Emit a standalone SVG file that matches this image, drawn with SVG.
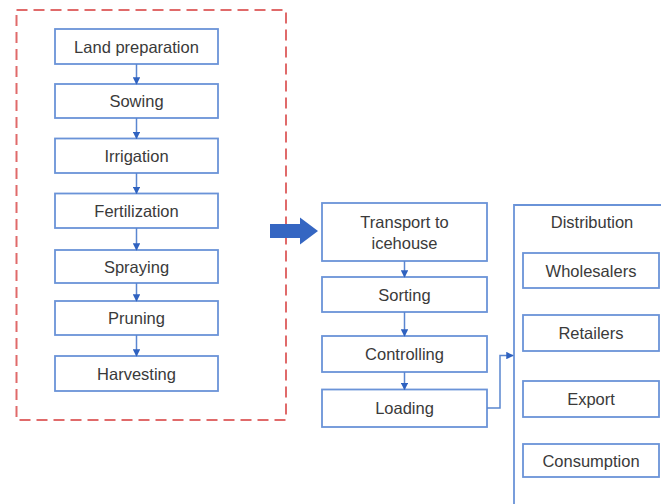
<svg xmlns="http://www.w3.org/2000/svg" width="661" height="504" viewBox="0 0 661 504">
  <style>
    .box { fill: #ffffff; stroke: #6a93d8; stroke-width: 1.8; }
    .lbl { font-family: "Liberation Sans", Arial, sans-serif; font-size: 16.5px; fill: #3a3a3a; text-anchor: middle; dominant-baseline: central; }
    .link { fill: none; stroke: #5a86d0; stroke-width: 1.5; marker-end: url(#tip); }
  </style>
  <defs>
    <marker id="tip" viewBox="0 0 10 10" refX="9" refY="5" markerWidth="5" markerHeight="5" orient="auto" markerUnits="strokeWidth">
      <path d="M0,0 L10,5 L0,10 z" fill="#2f62c0"/>
    </marker>
  </defs>
  <rect width="661" height="504" fill="#ffffff"/>

  <!-- field stage boundary -->
  <rect id="field-stage" x="16.5" y="10" width="269.5" height="410" fill="none" stroke="#e06a6a" stroke-width="2" stroke-dasharray="11 6"/>

  <!-- field steps -->
  <g id="land-preparation"><rect class="box" x="55" y="29" width="163" height="35"/><text class="lbl" x="136.5" y="46.5">Land preparation</text></g>
  <g id="sowing"><rect class="box" x="55" y="84" width="163" height="34"/><text class="lbl" x="136.5" y="101">Sowing</text></g>
  <g id="irrigation"><rect class="box" x="55" y="138.5" width="163" height="34.5"/><text class="lbl" x="136.5" y="156">Irrigation</text></g>
  <g id="fertilization"><rect class="box" x="55" y="193.5" width="163" height="34.5"/><text class="lbl" x="136.5" y="211">Fertilization</text></g>
  <g id="spraying"><rect class="box" x="55" y="250" width="163" height="33"/><text class="lbl" x="136.5" y="266.5">Spraying</text></g>
  <g id="pruning"><rect class="box" x="55" y="301" width="163" height="34"/><text class="lbl" x="136.5" y="318">Pruning</text></g>
  <g id="harvesting"><rect class="box" x="55" y="356" width="163" height="35"/><text class="lbl" x="136.5" y="373.5">Harvesting</text></g>

  <!-- handling steps -->
  <g id="transport"><rect class="box" x="322" y="203" width="165" height="58"/><text class="lbl" x="404.5" y="222">Transport to</text><text class="lbl" x="404.5" y="243">icehouse</text></g>
  <g id="sorting"><rect class="box" x="322" y="277" width="165" height="35"/><text class="lbl" x="404.5" y="294.5">Sorting</text></g>
  <g id="controlling"><rect class="box" x="322" y="336" width="165" height="36"/><text class="lbl" x="404.5" y="354">Controlling</text></g>
  <g id="loading"><rect class="box" x="322" y="389.5" width="165" height="37.5"/><text class="lbl" x="404.5" y="408">Loading</text></g>

  <!-- distribution channel -->
  <g id="distribution">
    <path d="M514,504 V205 H662" fill="none" stroke="#6a93d8" stroke-width="1.8"/>
    <text class="lbl" x="592" y="222">Distribution</text>
  </g>
  <g id="wholesalers"><rect class="box" x="523" y="253" width="136" height="35"/><text class="lbl" x="591" y="270.5">Wholesalers</text></g>
  <g id="retailers"><rect class="box" x="523" y="315" width="136" height="36"/><text class="lbl" x="591" y="333">Retailers</text></g>
  <g id="export"><rect class="box" x="523" y="381" width="136" height="36"/><text class="lbl" x="591" y="399">Export</text></g>
  <g id="consumption"><rect class="box" x="523" y="444" width="136" height="33"/><text class="lbl" x="591" y="460.5">Consumption</text></g>

  <!-- connectors -->
  <g id="connectors">
    <path class="link" d="M136.5,64 V84"/>
    <path class="link" d="M136.5,118 V138.5"/>
    <path class="link" d="M136.5,173 V193.5"/>
    <path class="link" d="M136.5,228 V250"/>
    <path class="link" d="M136.5,283 V301"/>
    <path class="link" d="M136.5,335 V356"/>
    <path class="link" d="M404.5,261 V277"/>
    <path class="link" d="M404.5,312 V336"/>
    <path class="link" d="M404.5,372 V389.5"/>
    <path class="link" d="M487,408 H500 V355.5 H513"/>
    <!-- block arrow from field stage to handling -->
    <path d="M270,224 H300 V217.5 L318,231 L300,244.5 V238 H270 Z" fill="#3566c2"/>
  </g>
</svg>
